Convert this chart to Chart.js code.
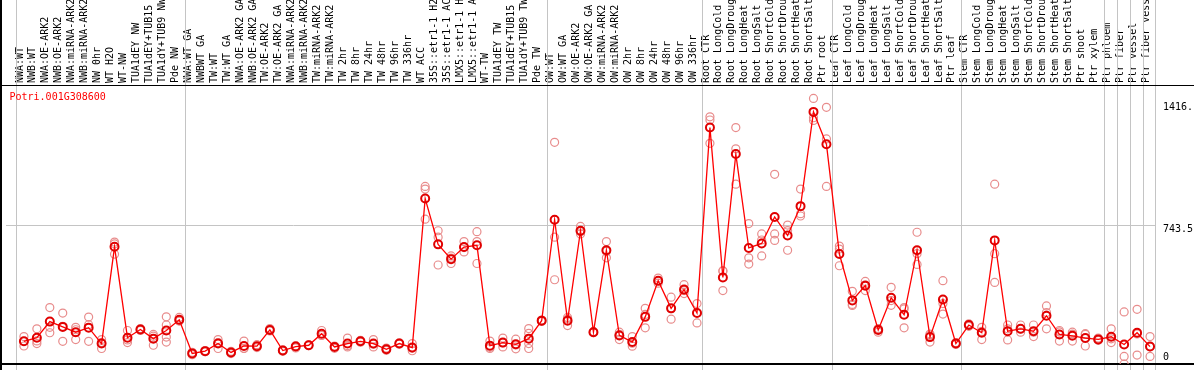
<!DOCTYPE html>
<html>
<head>
<meta charset="utf-8">
<title>Potri.001G308600</title>
<script src="https://cdn.jsdelivr.net/npm/chart.js@4.4.1/dist/chart.umd.min.js"></script>
<style>
  html, body { margin: 0; padding: 0; background: #fff; overflow: hidden; }
  #chart { display: block; }
</style>
</head>
<body>
<canvas id="chart" width="1194" height="370"></canvas>
<script>
// ========== DATOS ==========
const GENE = 'Potri.001G308600';

const LABELS = [
    'NWA:WT', 'NWB:WT', 'NWA:OE-ARK2', 'NWB:OE-ARK2', 'NWA:miRNA-ARK2', 'NWB:miRNA-ARK2', 'NW 0hr', 'WT H2O',
    'WT-NW', 'TUA1dEY NW', 'TUA1dEY+TUB15', 'TUA1dY+TUB9 NW', 'Pde NW',
    'NWA:WT GA', 'NWBWT GA', 'TW:WT', 'TW:WT GA', 'NWA:OE-ARK2 GA', 'NWB:OE-ARK2 GA', 'TW:OE-ARK2', 'TW:OE-ARK2 GA',
    'NWA:miRNA-ARK2', 'NWB:miRNA-ARK2', 'TW:miRNA-ARK2', 'TW:miRNA-ARK2', 'TW 2hr', 'TW 8hr', 'TW 24hr', 'TW 48hr',
    'TW 96hr', 'TW 336hr', 'WT ACC', '35S::etr1-1 H2', '35S::etr1-1 AC', 'LMX5::etr1-1 H', 'LMX5::etr1-1 A',
    'WT-TW', 'TUA1dEY TW', 'TUA1dEY+TUB15', 'TUA1dY+TUB9 TW', 'Pde TW',
    'OW:WT', 'OW:WT GA', 'OW:OE-ARK2', 'OW:OE-ARK2 GA', 'OW:miRNA-ARK2', 'OW:miRNA-ARK2', 'OW 2hr', 'OW 8hr',
    'OW 24hr', 'OW 48hr', 'OW 96hr', 'OW 336hr',
    'Root CTR', 'Root LongCold', 'Root LongDroug', 'Root LongHeat', 'Root LongSalt', 'Root ShortCold',
    'Root ShortDrou', 'Root ShortHeat', 'Root ShortSalt', 'Ptr root',
    'Leaf CTR', 'Leaf LongCold', 'Leaf LongDroug', 'Leaf LongHeat', 'Leaf LongSalt', 'Leaf ShortCold',
    'Leaf ShortDrou', 'Leaf ShortHeat', 'Leaf ShortSalt', 'Ptr leaf',
    'Stem CTR', 'Stem LongCold', 'Stem LongDroug', 'Stem LongHeat', 'Stem LongSalt', 'Stem ShortCold',
    'Stem ShortDrou', 'Stem ShortHeat', 'Stem ShortSalt', 'Ptr shoot', 'Ptr xylem',
    'Ptr phloem', 'Ptr fiber', 'Ptr vessel', 'Ptr fiber vess'
];

// primer índice de cada grupo de muestras (líneas grises verticales)
const GROUP_STARTS = [0, 13, 41, 53, 63, 73, 84, 85, 86, 87, 88];

// media por muestra
const MEANS = [
    133, 152, 237, 209, 181, 205, 121, 632, 152, 195, 147, 190, 247,
    69, 81, 121, 74, 108, 107, 193, 84, 105, 112, 173, 103, 121, 133, 121, 91, 121, 100,
    887, 645, 567, 631, 640, 110, 126, 117, 147, 242,
    775, 242, 717, 181, 614, 164, 129, 262, 453, 307, 406, 282,
    1262, 470, 1122, 626, 650, 790, 692, 847, 1345, 1174,
    594, 349, 427, 193, 363, 273, 614, 155, 354, 121,
    219, 178, 666, 186, 199, 186, 268, 169, 162, 150, 143,
    157, 116, 178, 105
];

// réplicas por muestra
const REPS = [
    [158, 133, 108], [199, 121, 135], [311, 207, 178], [282, 133, 212], [207, 142, 194], [261, 133, 221],
    [142, 95, 126], [657, 593, 648], [190, 126, 140], [200, 190, 195], [169, 112, 160], [262, 219, 155, 129],
    [259, 240, 242],
    [75, 62, 70], [81, 78, 84], [142, 95, 126], [80, 68, 74], [134, 95, 96], [115, 100, 106], [200, 188, 192],
    [84, 80, 88], [110, 98, 108], [112, 110, 114], [190, 165, 164], [108, 96, 105], [150, 103, 110],
    [138, 128, 133], [142, 103, 118], [97, 85, 91], [125, 118, 120], [121, 83, 96], [951, 937, 778],
    [717, 683, 536], [584, 544, 573], [660, 605, 628], [712, 660, 544], [134, 95, 101], [150, 103, 125],
    [144, 93, 114], [200, 175, 121, 95], [245, 238, 243],
    [1184, 683, 458], [259, 216, 251], [740, 712, 700], [185, 178, 181], [660, 574, 608], [181, 142, 169],
    [158, 107, 123], [307, 204, 275], [467, 440, 452], [366, 250, 305], [432, 385, 401], [332, 230, 284],
    [1319, 1302, 1179], [506, 401, 503], [1262, 1150, 963], [755, 574, 541], [700, 668, 584], [1015, 700, 666],
    [747, 614, 718], [937, 807, 795], [1416, 1314, 1300], [1369, 1202, 951],
    [636, 620, 532], [397, 328, 322], [449, 401, 431], [200, 181, 198], [418, 323, 348], [311, 204, 304],
    [709, 596, 539], [165, 129, 171], [453, 277, 332], [126, 116, 121],
    [225, 212, 220], [207, 142, 185], [963, 596, 444], [219, 140, 199], [219, 181, 197], [219, 158, 181],
    [320, 199, 285], [190, 134, 183], [181, 134, 171], [173, 108, 169], [150, 138, 141],
    [199, 126, 146], [288, 53, 13], [302, 60, 172], [158, 53, 104]
];

// etiquetas del eje de valores (derecha)
const Y_TICKS = [1416, 743.5, 0];
const Y_TICK_TEXT = ['1416.', '743.5', '0'];
const Y_GRID = [743.5];

// ========== ESTILO ==========
const MONO = '"DejaVu Sans Mono", "Liberation Mono", monospace';
const RED = '#ff0000';
const REP_COLOR = 'rgb(232,140,140)';
const GRID_COLOR = '#c4c4c4';

// ========== PLUGIN: marco, separadores y textos ==========
const framePlugin = {
    id: 'frame',
    beforeDatasetsDraw(chart) {
        const { ctx, scales: { x } } = chart;
        const H = chart.height, W = chart.width;
        ctx.save();
        ctx.strokeStyle = GRID_COLOR;
        ctx.lineWidth = 1;
        GROUP_STARTS.forEach(k => {
            const px = Math.round(x.getPixelForValue(k - 0.5)) - 0.5;
            ctx.beginPath();
            ctx.moveTo(px, 0);
            ctx.lineTo(px, H);
            ctx.stroke();
        });
        ctx.fillStyle = '#000';
        ctx.fillRect(0, 0, 2, H);                       // borde izquierdo
        ctx.fillRect(0, chart.chartArea.top, W, 1);     // bajo las etiquetas
        ctx.fillRect(0, chart.chartArea.bottom - 1, W, 2); // borde inferior
        ctx.restore();
    },
    afterDraw(chart) {
        const { ctx, scales: { y }, chartArea } = chart;
        ctx.save();
        ctx.font = '10px ' + MONO;
        ctx.textBaseline = 'middle';
        ctx.textAlign = 'left';

        ctx.fillStyle = RED;
        ctx.fillText(GENE, 9.5, chartArea.top + 12);

        ctx.fillStyle = '#000';
        Y_TICKS.forEach((v, i) => {
            let py = y.getPixelForValue(v) + 3.5;
            py = Math.max(py, chartArea.top + 22);
            py = Math.min(py, chartArea.bottom - 7);
            ctx.fillText(Y_TICK_TEXT[i], chartArea.right + 7, py);
        });
        ctx.restore();
    }
};

// ========== GRÁFICO ==========
function initChart() {
    const meanPts = MEANS.map((v, i) => ({ x: i, y: v }));
    const repPts = [];
    REPS.forEach((arr, i) => arr.forEach(v => repPts.push({ x: i, y: v })));

    new Chart(document.getElementById('chart').getContext('2d'), {
        type: 'line',
        data: {
            datasets: [
                {
                    label: 'media', data: meanPts,
                    borderColor: RED, borderWidth: 1.3, tension: 0,
                    pointRadius: 4, pointBorderWidth: 2,
                    pointBorderColor: '#e00000', pointBackgroundColor: 'rgba(0,0,0,0)'
                },
                {
                    label: 'réplicas', data: repPts, showLine: false,
                    pointRadius: 4, pointBorderWidth: 1.2,
                    pointBorderColor: REP_COLOR, pointBackgroundColor: 'rgba(0,0,0,0)'
                }
            ]
        },
        options: {
            responsive: false, animation: false,
            layout: { padding: { left: 1, right: 0, top: 0, bottom: 1 } },
            plugins: { legend: { display: false }, tooltip: { enabled: false } },
            scales: {
                x: {
                    type: 'linear', position: 'top',
                    min: -18 / 13, max: -18 / 13 + 1155 / 13,
                    afterBuildTicks: axis => { axis.ticks = LABELS.map((_, i) => ({ value: i })); },
                    afterFit: axis => { axis.height = 85; },
                    grid: { display: false, drawTicks: false },
                    border: { display: false },
                    ticks: {
                        autoSkip: false, minRotation: 90, maxRotation: 90, padding: 2, labelOffset: 8,
                        color: '#000', font: { family: MONO, size: 10 },
                        callback: (v, i) => LABELS[i]
                    }
                },
                y: {
                    position: 'right', min: 13, max: 1487,
                    afterBuildTicks: axis => { axis.ticks = Y_GRID.map(v => ({ value: v })); },
                    afterFit: axis => { axis.width = 38; },
                    grid: { color: GRID_COLOR, drawTicks: false },
                    border: { display: false },
                    ticks: { display: false }
                }
            }
        },
        plugins: [framePlugin]
    });
}

document.addEventListener('DOMContentLoaded', initChart);
</script>
</body>
</html>
